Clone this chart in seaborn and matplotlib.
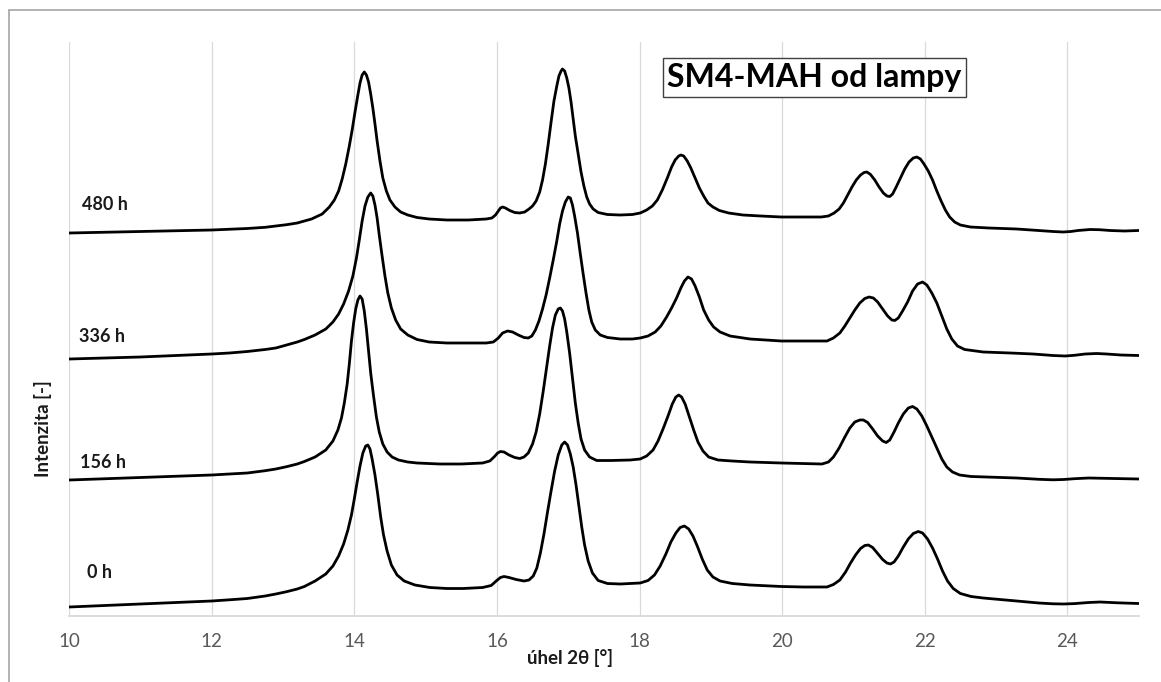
import numpy as np
import pandas as pd
import seaborn as sns
import matplotlib.pyplot as plt
from matplotlib.lines import Line2D

# --- diffraction patterns (2θ in degrees, intensity in arbitrary units, stacked) ---
two_theta_480 = [10.00, 11.00, 12.00, 12.25, 12.50, 12.75, 12.90, 13.05, 13.20, 13.30, 13.40, 13.55,
                 13.65, 13.72, 13.78, 13.83,
                 13.88, 13.93, 13.97, 14.01, 14.05, 14.08, 14.11, 14.14, 14.17, 14.20, 14.23, 14.26,
                 14.29, 14.32, 14.36, 14.40, 14.45, 14.50, 14.57, 14.65, 14.75, 14.88, 15.05, 15.30,
                 15.60, 15.85, 15.93, 15.98, 16.02, 16.05, 16.08, 16.12, 16.18, 16.25, 16.32, 16.39,
                 16.45, 16.50, 16.55, 16.60, 16.64, 16.68, 16.72, 16.76, 16.80, 16.84, 16.87, 16.90,
                 16.92, 16.95, 16.98, 17.01, 17.04, 17.07, 17.10, 17.14, 17.18, 17.22, 17.26, 17.30,
                 17.35, 17.42, 17.55, 17.73, 17.90, 18.01, 18.10, 18.18, 18.25, 18.32, 18.39, 18.45,
                 18.50, 18.55, 18.58, 18.62, 18.67, 18.72, 18.78, 18.84, 18.90, 18.96, 19.03, 19.12,
                 19.25, 19.45, 19.70, 19.99, 20.30, 20.55, 20.65, 20.73, 20.80, 20.86, 20.92, 20.98,
                 21.04, 21.10, 21.15, 21.19, 21.24, 21.30, 21.36, 21.42, 21.47, 21.51, 21.55, 21.60,
                 21.66, 21.72, 21.78, 21.84, 21.89, 21.94, 21.99, 22.05, 22.11, 22.17, 22.23, 22.29,
                 22.35, 22.42, 22.50, 22.64, 22.90, 23.29, 23.60, 23.80, 23.94, 24.05, 24.15, 24.32,
                 24.45, 24.60, 24.80, 25.00]
intensity_480 = [383, 384.5, 386, 386.7, 387.5, 388.7, 390, 391.3, 393, 395, 397, 402,
                 409, 416, 425, 437,
                 452, 470, 486, 504, 521, 533, 541, 544, 541, 534, 522, 508,
                 492, 475, 455, 438, 425, 416, 409, 404, 401, 398.5, 397, 396,
                 396, 397, 398, 401, 405, 408, 409, 408, 405.5, 403.5, 403, 404,
                 407, 410, 415, 424, 436, 452, 472, 494, 515, 530, 540, 545,
                 547, 545, 538, 528, 514, 497, 480, 462, 444, 430, 419, 412,
                 407, 403.5, 401.5, 401, 401.5, 403, 406, 410, 416, 426, 438, 449,
                 456, 460, 461, 460, 455, 448, 438, 428, 420, 413, 409, 405.5,
                 403, 401, 400, 399, 399, 399, 400, 403, 407, 413, 421, 429,
                 436, 441, 443.5, 444, 441.5, 436, 429, 423, 420, 419.5, 422, 429,
                 438, 447, 454, 458, 459, 457, 452, 445, 436, 425, 415, 406,
                 399, 394, 391, 389, 388, 387, 385.5, 384.5, 384, 384.5, 385.5, 386.5,
                 386.3, 385.5, 385, 385.5]

two_theta_336 = [10.00, 11.00, 12.00, 12.25, 12.50, 12.75, 12.90, 13.05, 13.20, 13.30, 13.45, 13.60,
                 13.70, 13.78, 13.85, 13.92,
                 13.98, 14.03, 14.07, 14.11, 14.15, 14.19, 14.23, 14.26, 14.29, 14.32, 14.35, 14.39,
                 14.43, 14.47, 14.52, 14.58, 14.65, 14.75, 14.88, 15.05, 15.30, 15.60, 15.85, 15.95,
                 16.02, 16.08, 16.15, 16.22, 16.30, 16.38, 16.44, 16.49, 16.54, 16.59, 16.64, 16.69,
                 16.74, 16.79, 16.84, 16.88, 16.92, 16.96, 17.00, 17.03, 17.06, 17.09, 17.13, 17.17,
                 17.21, 17.25, 17.29, 17.33, 17.38, 17.45, 17.55, 17.73, 17.90, 18.01, 18.12, 18.22,
                 18.30, 18.38, 18.45, 18.52, 18.58, 18.63, 18.68, 18.73, 18.78, 18.84, 18.90, 18.97,
                 19.04, 19.13, 19.27, 19.55, 19.99, 20.30, 20.63, 20.72, 20.81, 20.88, 20.95, 21.02,
                 21.09, 21.16, 21.22, 21.28, 21.34, 21.41, 21.48, 21.54, 21.58, 21.63, 21.69, 21.76,
                 21.83, 21.90, 21.97, 22.03, 22.10, 22.17, 22.24, 22.31, 22.38, 22.46, 22.56, 22.82,
                 23.20, 23.52, 23.80, 23.97, 24.10, 24.25, 24.41, 24.55, 24.75, 25.00]
intensity_336 = [257, 259, 262, 263, 264.5, 266.5, 268, 271, 274, 276.5, 281, 287,
                 294, 302, 312, 325,
                 340, 358, 376, 395, 410, 419, 423, 420, 411, 398, 381, 360,
                 340, 323, 308, 296, 287, 281, 276.5, 274, 273, 273, 273, 274,
                 278, 283, 285, 284, 281, 278.5, 278, 280, 286, 295, 307, 321,
                 338, 356, 375, 392, 405, 414, 419, 418, 411, 400, 383, 362,
                 342, 323, 306, 294, 286, 281, 278.5, 277, 277, 278, 280, 284,
                 290, 299, 308, 318, 328, 335, 339, 337, 330, 319, 306, 296,
                 289, 284, 280, 277, 275, 275, 275, 278, 283, 290, 298, 306,
                 313, 317.5, 319, 318, 314, 307, 300, 296, 295.5, 298, 305, 314,
                 325, 332, 334, 331, 323, 313, 300, 287, 277, 270, 266.5, 264,
                 263, 262, 260.5, 260, 260.7, 262, 262.5, 262, 261, 260.5]

two_theta_156 = [10.00, 11.00, 12.00, 12.25, 12.50, 12.75, 12.90, 13.05, 13.20, 13.30, 13.45, 13.60,
                 13.70, 13.77, 13.82, 13.86,
                 13.90, 13.93, 13.96, 13.99, 14.02, 14.05, 14.08, 14.11, 14.14, 14.17, 14.20, 14.23,
                 14.27, 14.31, 14.35, 14.40, 14.46, 14.53, 14.62, 14.75, 14.88, 15.20, 15.50, 15.80,
                 15.90, 15.96, 16.01, 16.05, 16.10, 16.17, 16.25, 16.32, 16.38, 16.44, 16.50, 16.55,
                 16.60, 16.65, 16.70, 16.74, 16.78, 16.82, 16.86, 16.89, 16.92, 16.95, 16.98, 17.02,
                 17.06, 17.10, 17.14, 17.18, 17.23, 17.30, 17.40, 17.60, 17.87, 18.01, 18.10, 18.19,
                 18.26, 18.33, 18.40, 18.46, 18.51, 18.55, 18.59, 18.64, 18.70, 18.76, 18.82, 18.89,
                 18.97, 19.10, 19.30, 19.55, 19.99, 20.30, 20.56, 20.65, 20.72, 20.80, 20.88, 20.95,
                 21.02, 21.09, 21.14, 21.20, 21.27, 21.34, 21.41, 21.46, 21.51, 21.57, 21.63, 21.70,
                 21.77, 21.83, 21.89, 21.96, 22.03, 22.10, 22.17, 22.24, 22.31, 22.39, 22.49, 22.65,
                 23.29, 23.60, 23.80, 23.95, 24.10, 24.30, 24.50, 25.00]
intensity_156 = [136, 138.5, 141, 142, 143, 145.3, 147, 149.3, 152, 154.5, 159, 166,
                 175, 186, 198, 213,
                 232, 252, 275, 293, 307, 316, 320, 317, 305, 287, 265, 243,
                 220, 199, 184, 172, 164, 159, 156, 154, 153, 152, 152, 153,
                 155, 159, 163, 164.5, 164, 161, 158.5, 157.5, 159, 163, 172, 184,
                 202, 225, 250, 270, 288, 301, 307, 308, 305, 297, 284, 263,
                 238, 213, 193, 177, 166, 159, 155.5, 155.5, 156, 157, 160, 166,
                 175, 187, 200, 212, 219, 221, 219, 212, 199, 186, 174, 165,
                 159, 156, 155, 154, 153, 152.5, 152, 154, 159, 168, 179, 188,
                 194, 196, 196, 193.5, 187, 180, 175, 173.5, 176, 184, 193, 202,
                 208, 209.5, 207, 200, 190, 179, 168, 157, 149, 144, 141, 139.5,
                 138, 136.7, 136.2, 136.5, 137.3, 138, 137.7, 137]

two_theta_0 = [10.00, 11.00, 12.00, 12.25, 12.50, 12.75, 12.90, 13.05, 13.20, 13.30, 13.45, 13.60,
               13.70, 13.78, 13.85, 13.91,
               13.96, 14.00, 14.04, 14.08, 14.12, 14.16, 14.19, 14.22, 14.25, 14.29, 14.33, 14.37,
               14.41, 14.46, 14.52, 14.60, 14.70, 14.85, 15.06, 15.30, 15.53, 15.80, 15.92, 15.99,
               16.05, 16.10, 16.17, 16.27, 16.38, 16.45, 16.51, 16.56, 16.61, 16.66, 16.71, 16.76,
               16.81, 16.86, 16.91, 16.95, 16.99, 17.03, 17.07, 17.11, 17.15, 17.19, 17.23, 17.28,
               17.34, 17.42, 17.55, 17.73, 18.01, 18.12, 18.21, 18.29, 18.37, 18.44, 18.51, 18.57,
               18.63, 18.69, 18.75, 18.81, 18.88, 18.95, 19.03, 19.13, 19.30, 19.55, 19.99, 20.30,
               20.63, 20.72, 20.81, 20.89, 20.96, 21.03, 21.10, 21.16, 21.21, 21.27, 21.34, 21.41,
               21.47, 21.52, 21.57, 21.63, 21.70, 21.77, 21.84, 21.91, 21.97, 22.04, 22.11, 22.18,
               22.25, 22.32, 22.40, 22.50, 22.65, 22.82, 23.29, 23.60, 23.80, 23.95, 24.10, 24.30,
               24.46, 24.70, 25.00]
intensity_0 = [9, 12, 15, 16.2, 17.5, 20, 22, 24.3, 27, 29.5, 35, 42,
               50, 60, 72, 86,
               101, 117, 134, 150, 163, 170, 171, 167, 157, 141, 121, 99,
               81, 65, 51, 41, 35, 31, 28.5, 27.5, 27.5, 28.5, 30.5, 35,
               38.5, 39.5, 38.5, 36.5, 35, 36, 40, 48, 63, 82, 104, 125,
               145, 161, 171, 174, 171, 162, 149, 131, 110, 89, 71, 55,
               43, 35.5, 32.5, 32, 33, 35.5, 41, 50, 62, 74, 83, 88.5,
               90, 87, 80, 70, 57, 46, 39, 35, 32.5, 31, 29.5, 29,
               29, 31.5, 36, 44, 53, 61, 67.5, 70.5, 71, 68.5, 62.5, 56.5,
               53, 52, 54, 60, 69, 77, 82.5, 84.5, 83, 77, 68, 57,
               45, 35, 27.5, 22.5, 19.5, 18, 15, 13, 12.2, 12, 12.4, 13.5,
               14, 13.2, 12.5]

samples = ["480 h", "336 h", "156 h", "0 h"]
tick_positions = [10, 12, 14, 16, 18, 20, 22, 24]

series = {
    "480 h": (two_theta_480, intensity_480),
    "336 h": (two_theta_336, intensity_336),
    "156 h": (two_theta_156, intensity_156),
    "0 h": (two_theta_0, intensity_0),
}
frames = [pd.DataFrame({"uhel": x, "intenzita": y, "vzorek": name})
          for name, (x, y) in series.items()]
df = pd.concat(frames, ignore_index=True)

sns.set_theme(style="white")
plt.rcParams["font.family"] = ["Lato", "DejaVu Sans"]

W, H = 1161, 682
fig = plt.figure(figsize=(W / 100, H / 100), dpi=100)
ax = fig.add_axes([69.1 / W, 66 / H, (1138.6 - 69.1) / W, (616 - 41.7) / H])

sns.lineplot(data=df, x="uhel", y="intenzita", hue="vzorek", hue_order=samples,
             palette=["black"] * 4, estimator=None, sort=False, legend=False,
             linewidth=2.0, ax=ax)
for line in ax.get_lines():
    line.set_solid_joinstyle("round")
    line.set_solid_capstyle("round")

ax.set_xlim(10, 25)
ax.set_ylim(0, 574.3)
ax.set_xticks(tick_positions)
ax.set_xticklabels([str(t) for t in tick_positions])
ax.set_yticks([])
ax.grid(axis="x", color="#d9d9d9", linewidth=0.9)
ax.set_axisbelow(True)
for side in ("left", "right", "top"):
    ax.spines[side].set_visible(False)
ax.spines["bottom"].set_color("#d9d9d9")
ax.spines["bottom"].set_linewidth(1.3)
ax.tick_params(axis="x", length=0, pad=12, labelsize=13.5, labelcolor="#595959")

ax.set_xlabel("úhel 2θ [°]", fontsize=13.5, fontweight="bold", color="#1a1a1a")
ax.xaxis.set_label_coords(0.468, -0.073)
ax.xaxis.label.set_va("center")
ax.set_ylabel("Intenzita [-]", fontsize=13.5, fontweight="bold", color="#1a1a1a")
ax.yaxis.set_label_coords(-0.0247, 0.327)
ax.yaxis.label.set_va("center")

# sample labels beside each trace
label_pos = {"480 h": (10.18, 411), "336 h": (10.14, 279), "156 h": (10.15, 153), "0 h": (10.25, 43)}
for name in samples:
    lx, ly = label_pos[name]
    ax.text(lx, ly, name, fontsize=13, fontweight="bold", color="#1a1a1a",
            ha="left", va="center")

ax.text(0.697, 0.938, "SM4-MAH od lampy", transform=ax.transAxes, ha="center", va="center",
        fontsize=23, fontweight="bold", color="black",
        bbox=dict(boxstyle="square,pad=0.15", fc="white", ec="#404040", lw=1.0))

# outer chart frame
fig.add_artist(Line2D([8.5 / W, 1], [1 - 10 / H, 1 - 10 / H], transform=fig.transFigure,
                      color="#a6a6a6", linewidth=1.2))
fig.add_artist(Line2D([8.5 / W, 8.5 / W], [0, 1 - 10 / H], transform=fig.transFigure,
                      color="#a6a6a6", linewidth=1.2))

fig.savefig("out.png", dpi=100, facecolor="white")
